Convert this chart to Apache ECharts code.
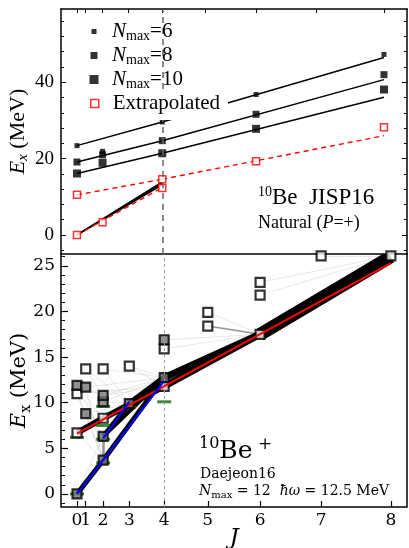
<!DOCTYPE html>
<html>
<head>
<meta charset="utf-8">
<script src="https://cdn.jsdelivr.net/npm/echarts@6/dist/echarts.min.js"></script>
<style>
  html, body { margin: 0; padding: 0; background: #fff; }
  #chart { width: 409px; height: 548px; }
</style>
</head>
<body>
<div id="chart"></div>
<script>
// x axis is J(J+1), labels show J
const jTicks = [0, 1, 2, 3, 4, 5, 6, 7, 8];

// ---- top panel: JISP16, yrast band energies (MeV) at J = 0,4,6,8
const bandJ = [0, 4, 6, 8];
const nmax6 = [23.4, 29.6, 36.8, 47.3];
const nmax8 = [19.1, 24.7, 31.6, 42.0];
const nmax10 = [16.1, 21.4, 27.8, 38.1];
const extrapBand = [10.5, 14.6, 19.3, 28.2];
// J=2 states near 20 MeV  [Nmax6, Nmax8, Nmax10]
const j2High = [21.9, 21.0, 18.9];
// ground band, extrapolated, J = 0,2,4
const groundJ = [0, 2, 4];
const extrapGround = [0, 3.3, 12.3];
// fitted lines [J1, E1, J2, E2]
const fitsBlack = [
  [0, 23.4, 4, 29.6], [4, 29.6, 8, 46.5],
  [0, 19.1, 4, 24.7], [4, 24.7, 8, 40.7],
  [0, 16.1, 4, 21.4], [4, 21.4, 8, 36.1],
  [0, 0, 4, 13.9], [0, 0, 4, 13.5], [0, 0, 4, 13.1]
];
const fitsRed = [[0, 10.5, 4, 14.6], [4, 14.6, 8, 26.0], [0, 0, 4, 12.4]];
const topMajor = [0, 20, 40];
const topMinor = [-4, 4, 8, 12, 16, 24, 28, 32, 36, 44, 48, 52, 56];

// ---- bottom panel: Daejeon16, Nmax = 12  [J, E]
const openStates = [[0, 6.7], [0, 11.0], [1, 13.7], [2, 13.7], [2, 8.3], [3, 14.0], [4, 15.9], [4, 11.8],
  [5, 19.9], [5, 18.4], [6, 23.2], [6, 21.8], [6, 17.5], [7, 26.1], [8, 26.1]];
const filledStates = [[0, 0], [0, 11.9], [1, 11.7], [1, 8.8], [2, 3.7], [2, 6.3], [2, 10.1], [2, 10.8],
  [3, 9.9], [4, 12.75], [4, 16.9]];
const expLevels = [[0, 0], [0, 6.2], [2, 3.4], [2, 6.0], [2, 7.5], [2, 9.6], [3, 9.5], [4, 10.1]];
// strong E2 transitions [J1, E1, J2, E2, width]
const strongE2 = [
  [0, 0, 2, 3.7, 5], [2, 3.7, 4, 12.75, 5], [0, 6.7, 2, 8.3, 6], [2, 8.3, 4, 11.8, 6],
  [2, 8.3, 3, 9.9, 4], [2, 6.3, 3, 9.9, 5], [3, 9.9, 4, 12.75, 6], [2, 6.3, 4, 12.75, 4],
  [4, 12.75, 6, 17.5, 7], [4, 11.8, 6, 17.5, 7], [6, 17.5, 8, 26.0, 13]
];
// weak transitions [J1, E1, J2, E2]
const weakE2 = [
  [0, 11.0, 2, 8.3], [0, 11.9, 2, 8.3], [0, 11.0, 2, 3.7], [0, 11.9, 2, 6.3], [1, 11.7, 2, 3.7],
  [1, 8.8, 2, 3.7], [1, 8.8, 2, 6.3], [1, 13.7, 2, 10.8], [1, 13.7, 3, 9.9], [2, 13.7, 4, 12.75],
  [3, 14.0, 4, 12.75], [2, 10.8, 4, 12.75], [2, 10.1, 4, 12.75], [2, 10.8, 4, 11.8], [2, 10.1, 3, 9.9],
  [0, 11.9, 2, 10.8], [1, 11.7, 4, 12.75], [0, 11.0, 4, 11.8], [2, 13.7, 3, 9.9], [3, 14.0, 4, 11.8],
  [0, 0, 2, 6.3], [0, 6.7, 2, 3.7], [4, 16.9, 6, 17.5], [4, 15.9, 6, 17.5], [5, 19.9, 6, 17.5],
  [6, 23.2, 8, 26.1], [6, 21.8, 8, 26.1], [7, 26.1, 8, 26.1], [0, 11.0, 1, 8.8], [1, 8.8, 3, 9.9]
];
const midE2 = [[5, 18.4, 6, 17.5, 1.5], [2, 3.7, 2, 6.3, 2.5]];
const redBand = [[0, 6.6, 8, 25.3]];
const blueBands = [[0, 0, 4, 12.4], [2, 6.1, 3, 10.1]];
const botMajor = [0, 5, 10, 15, 20, 25];
const botMinor = [-1, 1, 2, 3, 4, 6, 7, 8, 9, 11, 12, 13, 14, 16, 17, 18, 19, 21, 22, 23, 24, 26];

const X = j => j * (j + 1);
const xTickVals = jTicks.map(X);
const labelMain = jTicks.filter(j => j !== 1).map(X);   // J = 1 sits on its own axis so it is not hidden
const labelOne = [X(1)];
const seg = (a, style) => ({ coords: [[X(a[0]), a[1]], [X(a[2]), a[3]]], lineStyle: style });

const TOPF = 'Liberation Serif';
const BOTF = 'DejaVu Serif';
const noLine = { show: false, onZero: false };
const blackLine = { show: true, onZero: false, lineStyle: { color: '#000', width: 1.5 } };

const chart = echarts.init(document.getElementById('chart'));

const tickOnly = (extra) => Object.assign({
  axisLine: noLine,
  axisLabel: { show: false },
  splitLine: { show: false }
}, extra);

// legend entries of the top panel
function makeLegend(name, label, center, size, itemStyle, bg) {
  const pad = bg ? [3, 8, 6, 4] : 0;
  return {
    data: [{ name, itemStyle }],
    left: 94 - size / 2 - (bg ? 4 : 0),
    top: center - 12 - (bg ? 3 : 0),
    icon: 'rect',
    itemWidth: size,
    itemHeight: size,
    selectedMode: false,
    padding: pad,
    backgroundColor: bg ? '#fff' : 'transparent',
    z: 10,
    formatter: () => label,
    textStyle: {
      fontFamily: TOPF, fontSize: 21, color: '#000',
      padding: [0, 0, 0, 13 - size / 2],
      rich: {
        n: { fontFamily: TOPF, fontSize: 21, fontStyle: 'italic', lineHeight: 24 },
        s: { fontFamily: TOPF, fontSize: 14, lineHeight: 12, verticalAlign: 'bottom' },
        t: { fontFamily: TOPF, fontSize: 21, lineHeight: 24 }
      }
    }
  };
}

const botLabel = (values) => ({
  customValues: values, margin: 5, fontFamily: BOTF, fontSize: 17, color: '#000',
  formatter: v => String(jTicks[xTickVals.indexOf(v)])
});

const option = {
  animation: false,
  backgroundColor: '#fff',
  grid: [
    { left: 61, top: 9, width: 346, height: 245, show: false, outerBoundsMode: 'none', containLabel: false },
    { left: 61, top: 254, width: 346, height: 253, show: true, borderColor: '#000', borderWidth: 1.5,
      outerBoundsMode: 'none', containLabel: false }
  ],
  legend: [
    makeLegend('Nmax6', '{n|N}{s|max}{t|=6}', 33, 5, { color: '#000' }),
    makeLegend('Nmax8', '{n|N}{s|max}{t|=8}', 57, 7, { color: '#000' }),
    makeLegend('Nmax10', '{n|N}{s|max}{t|=10}', 81, 9, { color: '#000' }),
    makeLegend('Extrapolated', '{t|Extrapolated}', 105, 8,
      { color: '#fff', borderColor: '#ff0000', borderWidth: 1.5 }, true)
  ],
  xAxis: [
    tickOnly({ type: 'value', gridIndex: 0, min: -3.75, max: 77.4, position: 'top', axisLine: blackLine,
      axisTick: { inside: true, length: 4, customValues: xTickVals, lineStyle: { color: '#000' } } }),
    { type: 'value', gridIndex: 1, min: -3.67, max: 75.7, position: 'bottom',
      axisLine: noLine, splitLine: { show: false },
      axisTick: { inside: true, length: 6, customValues: xTickVals, lineStyle: { color: '#000', width: 1.2 } },
      axisLabel: botLabel(labelMain),
      name: 'J', nameLocation: 'middle', nameGap: 20, nameMoveOverlap: false,
      nameTextStyle: { fontFamily: BOTF, fontSize: 23, fontStyle: 'italic', color: '#000' } },
    { type: 'value', gridIndex: 1, min: -3.67, max: 75.7, position: 'bottom',
      axisLine: noLine, splitLine: { show: false }, axisTick: { show: false },
      axisLabel: botLabel(labelOne) }
  ],
  yAxis: [
    { type: 'value', gridIndex: 0, min: -5.0, max: 59.2, position: 'left',
      axisLine: blackLine, splitLine: { show: false },
      axisTick: { inside: true, length: 5, customValues: topMajor, lineStyle: { color: '#000' } },
      axisLabel: { customValues: topMajor, margin: 7, fontFamily: TOPF, fontSize: 19, color: '#000' },
      name: '{e|E}{x|x}{t| (MeV)}', nameLocation: 'middle', nameGap: 30, nameRotate: 90, nameMoveOverlap: false,
      nameTextStyle: { rich: {
        e: { fontFamily: TOPF, fontSize: 22, fontStyle: 'italic', lineHeight: 26, color: '#000' },
        x: { fontFamily: TOPF, fontSize: 15, fontStyle: 'italic', lineHeight: 14, verticalAlign: 'bottom', color: '#000' },
        t: { fontFamily: TOPF, fontSize: 22, lineHeight: 26, color: '#000' } } } },
    tickOnly({ type: 'value', gridIndex: 0, min: -5.0, max: 59.2, position: 'left',
      axisTick: { inside: true, length: 3, customValues: topMinor, lineStyle: { color: '#000' } } }),
    tickOnly({ type: 'value', gridIndex: 0, min: -5.0, max: 59.2, position: 'right', axisLine: blackLine,
      axisTick: { inside: true, length: 5, customValues: topMajor, lineStyle: { color: '#000' } } }),
    tickOnly({ type: 'value', gridIndex: 0, min: -5.0, max: 59.2, position: 'right',
      axisTick: { inside: true, length: 3, customValues: topMinor, lineStyle: { color: '#000' } } }),
    { type: 'value', gridIndex: 1, min: -1.43, max: 26.3, position: 'left',
      axisLine: noLine, splitLine: { show: false },
      axisTick: { inside: true, length: 7, customValues: botMajor, lineStyle: { color: '#000', width: 1.2 } },
      axisLabel: { customValues: botMajor, margin: 6, fontFamily: BOTF, fontSize: 17, color: '#000' },
      name: '{e|E}{x|x}{t| (MeV)}', nameLocation: 'middle', nameGap: 28, nameRotate: 90, nameMoveOverlap: false,
      nameTextStyle: { rich: {
        e: { fontFamily: BOTF, fontSize: 21, fontStyle: 'italic', lineHeight: 26, color: '#000' },
        x: { fontFamily: BOTF, fontSize: 14, lineHeight: 14, verticalAlign: 'bottom', color: '#000' },
        t: { fontFamily: BOTF, fontSize: 21, lineHeight: 26, color: '#000' } } } },
    tickOnly({ type: 'value', gridIndex: 1, min: -1.43, max: 26.3, position: 'left',
      axisTick: { inside: true, length: 4, customValues: botMinor, lineStyle: { color: '#000' } } })
  ],
  graphic: [
    { type: 'text', left: 258, top: 185, z: 20, style: {
      text: '{s|10}{b|Be  JISP16}',
      rich: {
        s: { fontFamily: TOPF, fontSize: 14, lineHeight: 26, verticalAlign: 'top', fill: '#000' },
        b: { fontFamily: TOPF, fontSize: 23, lineHeight: 26, fill: '#000' } } } },
    { type: 'text', left: 258, top: 214, z: 20, style: {
      text: '{t|Natural (}{i|P}{t|=+)}',
      rich: {
        t: { fontFamily: TOPF, fontSize: 18, fill: '#000' },
        i: { fontFamily: TOPF, fontSize: 18, fontStyle: 'italic', fill: '#000' } } } },
    { type: 'text', left: 199, top: 436, z: 20, style: {
      text: '{s|10}{b|Be}{p| +}',
      rich: {
        s: { fontFamily: BOTF, fontSize: 16, lineHeight: 30, verticalAlign: 'top', fill: '#000' },
        b: { fontFamily: BOTF, fontSize: 25, lineHeight: 30, fill: '#000' },
        p: { fontFamily: BOTF, fontSize: 17, lineHeight: 30, verticalAlign: 'top', fill: '#000' } } } },
    { type: 'text', left: 200, top: 467, z: 20, style: {
      text: 'Daejeon16', fontFamily: BOTF, fontSize: 14, fill: '#000' } },
    { type: 'text', left: 199, top: 484, z: 20, style: {
      text: '{n|N}{s|max}{t| = 12  }{n|ħω}{t| = 12.5 MeV}',
      rich: {
        n: { fontFamily: BOTF, fontSize: 14, fontStyle: 'italic', lineHeight: 18, fill: '#000' },
        s: { fontFamily: BOTF, fontSize: 10, lineHeight: 10, verticalAlign: 'bottom', fill: '#000' },
        t: { fontFamily: BOTF, fontSize: 14, lineHeight: 18, fill: '#000' } } } }
  ],
  series: [
    // ---- top panel
    { type: 'lines', coordinateSystem: 'cartesian2d', xAxisIndex: 0, yAxisIndex: 0, z: 2,
      data: fitsBlack.map(a => seg(a, { color: '#000', width: 1.5, opacity: 1 })),
      markLine: { silent: true, symbol: 'none', label: { show: false },
        lineStyle: { color: '#666', width: 1.5, type: [6, 5] }, data: [{ xAxis: X(4) }] } },
    { type: 'lines', coordinateSystem: 'cartesian2d', xAxisIndex: 0, yAxisIndex: 0, z: 2,
      data: fitsRed.map(a => seg(a, { color: '#ff0000', width: 1.4, type: [5, 4], opacity: 1 })) },
    { name: 'Nmax6', type: 'scatter', xAxisIndex: 0, yAxisIndex: 0, symbol: 'rect', symbolSize: 5, z: 3,
      itemStyle: { color: '#000' },
      data: bandJ.map((j, i) => [X(j), nmax6[i]]).concat([[X(2), j2High[0]]]) },
    { name: 'Nmax8', type: 'scatter', xAxisIndex: 0, yAxisIndex: 0, symbol: 'rect', symbolSize: 7, z: 3,
      itemStyle: { color: '#000' },
      data: bandJ.map((j, i) => [X(j), nmax8[i]]).concat([[X(2), j2High[1]]]) },
    { name: 'Nmax10', type: 'scatter', xAxisIndex: 0, yAxisIndex: 0, symbol: 'rect', symbolSize: 8, z: 3,
      itemStyle: { color: '#000' },
      data: bandJ.map((j, i) => [X(j), nmax10[i]]).concat([[X(2), j2High[2]]]) },
    { name: 'Extrapolated', type: 'scatter', xAxisIndex: 0, yAxisIndex: 0, symbol: 'rect', symbolSize: 7, z: 4,
      itemStyle: { color: '#fff', borderColor: '#ff0000', borderWidth: 1.5 },
      data: bandJ.map((j, i) => [X(j), extrapBand[i]]).concat(groundJ.map((j, i) => [X(j), extrapGround[i]])) },

    // ---- bottom panel
    { type: 'lines', coordinateSystem: 'cartesian2d', xAxisIndex: 1, yAxisIndex: 4, z: 1,
      data: weakE2.map(a => seg(a, { color: '#000', width: 0.8, opacity: 0.12 }))
        .concat(midE2.map(a => seg(a, { color: '#777', width: a[4], opacity: 0.8 }))),
      markLine: { silent: true, symbol: 'none', label: { show: false },
        lineStyle: { color: '#999', width: 1, type: [3, 3] }, data: [{ xAxis: X(4) }] } },
    { type: 'lines', coordinateSystem: 'cartesian2d', xAxisIndex: 1, yAxisIndex: 4, z: 2,
      data: strongE2.map(a => seg(a, { color: '#000', width: a[4], opacity: 1 })) },
    { type: 'scatter', xAxisIndex: 1, yAxisIndex: 4, symbol: 'rect', symbolSize: [14, 3], z: 3,
      itemStyle: { color: '#0b6b0b' },
      data: expLevels.map(p => [X(p[0]), p[1]]) },
    { type: 'scatter', xAxisIndex: 1, yAxisIndex: 4, symbol: 'rect', symbolSize: 9, z: 4,
      itemStyle: { color: '#fff', borderColor: '#000', borderWidth: 2.2 },
      data: openStates.map(p => [X(p[0]), p[1]]) },
    { type: 'scatter', xAxisIndex: 1, yAxisIndex: 4, symbol: 'rect', symbolSize: 9, z: 4,
      itemStyle: { color: '#777', borderColor: '#000', borderWidth: 2.2 },
      data: filledStates.map(p => [X(p[0]), p[1]]) },
    { type: 'lines', coordinateSystem: 'cartesian2d', xAxisIndex: 1, yAxisIndex: 4, z: 5,
      data: redBand.map(a => seg(a, { color: '#ff0000', width: 2, opacity: 1 })) },
    { type: 'lines', coordinateSystem: 'cartesian2d', xAxisIndex: 1, yAxisIndex: 4, z: 5,
      data: blueBands.map(a => seg(a, { color: '#0000ff', width: 2, opacity: 1 })) }
  ]
};

chart.setOption(option);
</script>
</body>
</html>
